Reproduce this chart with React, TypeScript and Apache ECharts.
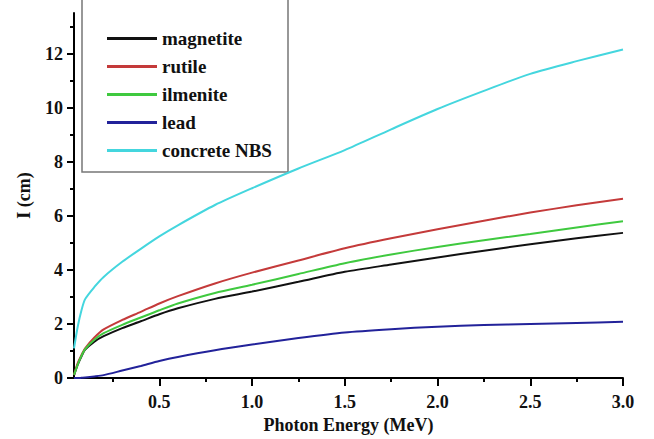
import React, { useEffect, useRef } from "react";
import * as echarts from "echarts";

const energies = [0.04, 0.06, 0.08, 0.1, 0.15, 0.2, 0.3, 0.4, 0.5, 0.6, 0.8, 1.0, 1.25, 1.5, 1.75, 2.0, 2.25, 2.5, 2.75, 3.0];
const magnetite = [0.1, 0.5, 0.8, 1.05, 1.35, 1.55, 1.85, 2.1, 2.36, 2.58, 2.93, 3.2, 3.56, 3.93, 4.2, 4.46, 4.71, 4.95, 5.17, 5.37];
const rutile = [0.12, 0.55, 0.85, 1.1, 1.5, 1.8, 2.15, 2.45, 2.76, 3.03, 3.5, 3.9, 4.35, 4.8, 5.17, 5.5, 5.82, 6.12, 6.39, 6.63];
const ilmenite = [0.12, 0.5, 0.82, 1.07, 1.42, 1.66, 1.97, 2.24, 2.51, 2.76, 3.15, 3.45, 3.85, 4.25, 4.57, 4.85, 5.1, 5.33, 5.57, 5.8];
const lead = [0, 0, 0.01, 0.02, 0.06, 0.11, 0.28, 0.45, 0.63, 0.78, 1.03, 1.24, 1.48, 1.69, 1.81, 1.9, 1.96, 2.0, 2.04, 2.08];
const concrete = [1.1, 1.9, 2.5, 2.92, 3.37, 3.74, 4.3, 4.78, 5.24, 5.65, 6.4, 7.02, 7.75, 8.43, 9.2, 9.95, 10.62, 11.25, 11.72, 12.15];

const seriesNames = ["magnetite", "rutile", "ilmenite", "lead", "concrete NBS"];
const seriesData = [magnetite, rutile, ilmenite, lead, concrete];
const seriesColors = ["#111111", "#c43a3a", "#3fc93f", "#22229a", "#44d6de"];

const xMajor = [0.5, 1.0, 1.5, 2.0, 2.5, 3.0];
const xMinor = [0.25, 0.75, 1.25, 1.75, 2.25, 2.75];
const yMajor = [0, 2, 4, 6, 8, 10, 12];
const yMinor = [1, 3, 5, 7, 9, 11, 13];

const FONT = "Liberation Serif";

export default function App() {
  const ref = useRef<HTMLDivElement>(null);
  useEffect(() => {
    if (!ref.current) return;
    const chart = echarts.init(ref.current, undefined, { renderer: "svg" });
    const axisLine = { show: true, lineStyle: { color: "#000", width: 2 } };
    chart.setOption({
      animation: false,
      backgroundColor: "#fff",
      grid: { left: 74, right: 31, top: 13, bottom: 55 },
      legend: {
        orient: "vertical",
        left: 102,
        top: 24,
        itemWidth: 50,
        itemHeight: 3,
        itemGap: 9,
        icon: "rect",
        data: seriesNames,
        textStyle: { fontFamily: FONT, fontWeight: "bold", fontSize: 19, color: "#111", lineHeight: 19 },
      },
      graphic: [
        {
          type: "rect",
          shape: { x: 82, y: -4, width: 206, height: 176 },
          style: { fill: "#fff", stroke: "#777", lineWidth: 1.5 },
          z: 0,
          zlevel: 0,
        },
      ],
      xAxis: [
        {
          type: "value",
          min: 0.04,
          max: 3.0,
          position: "bottom",
          name: "Photon Energy (MeV)",
          nameLocation: "middle",
          nameGap: 34,
          nameTextStyle: { fontFamily: FONT, fontWeight: "bold", fontSize: 18, color: "#111" },
          axisLine,
          axisTick: { show: true, customValues: xMajor, length: 8, lineStyle: { color: "#000", width: 2 } },
          axisLabel: {
            customValues: xMajor,
            formatter: (v: number) => v.toFixed(1),
            fontFamily: FONT,
            fontWeight: "bold",
            fontSize: 18,
            color: "#111",
            margin: 15,
          },
          splitLine: { show: false },
        },
        {
          type: "value",
          min: 0.04,
          max: 3.0,
          position: "bottom",
          axisLine: { show: false },
          axisTick: { show: true, customValues: xMinor, length: 4, lineStyle: { color: "#000", width: 2 } },
          axisLabel: { show: false },
          splitLine: { show: false },
        },
      ],
      yAxis: [
        {
          type: "value",
          min: 0,
          max: 13.5,
          position: "left",
          name: "I (cm)",
          nameLocation: "middle",
          nameRotate: 90,
          nameGap: 41,
          nameTextStyle: { fontFamily: FONT, fontWeight: "bold", fontSize: 18, color: "#111" },
          axisLine,
          axisTick: { show: true, customValues: yMajor, length: 7, lineStyle: { color: "#000", width: 2 } },
          axisLabel: {
            customValues: yMajor,
            fontFamily: FONT,
            fontWeight: "bold",
            fontSize: 18,
            color: "#111",
            margin: 11,
          },
          splitLine: { show: false },
        },
        {
          type: "value",
          min: 0,
          max: 13.5,
          position: "left",
          axisLine: { show: false },
          axisTick: { show: true, customValues: yMinor, length: 4, lineStyle: { color: "#000", width: 2 } },
          axisLabel: { show: false },
          splitLine: { show: false },
        },
      ],
      series: seriesNames.map((name, i) => ({
        name,
        type: "line",
        xAxisIndex: 0,
        yAxisIndex: 0,
        data: energies.map((e, j) => [e, seriesData[i][j]]),
        smooth: 0.25,
        showSymbol: false,
        symbol: "none",
        color: seriesColors[i],
        lineStyle: { color: seriesColors[i], width: 2 },
        z: 3,
      })),
    });
    return () => chart.dispose();
  }, []);
  return <div ref={ref} style={{ width: 654, height: 439, position: "fixed", left: 0, top: 0 }} />;
}
